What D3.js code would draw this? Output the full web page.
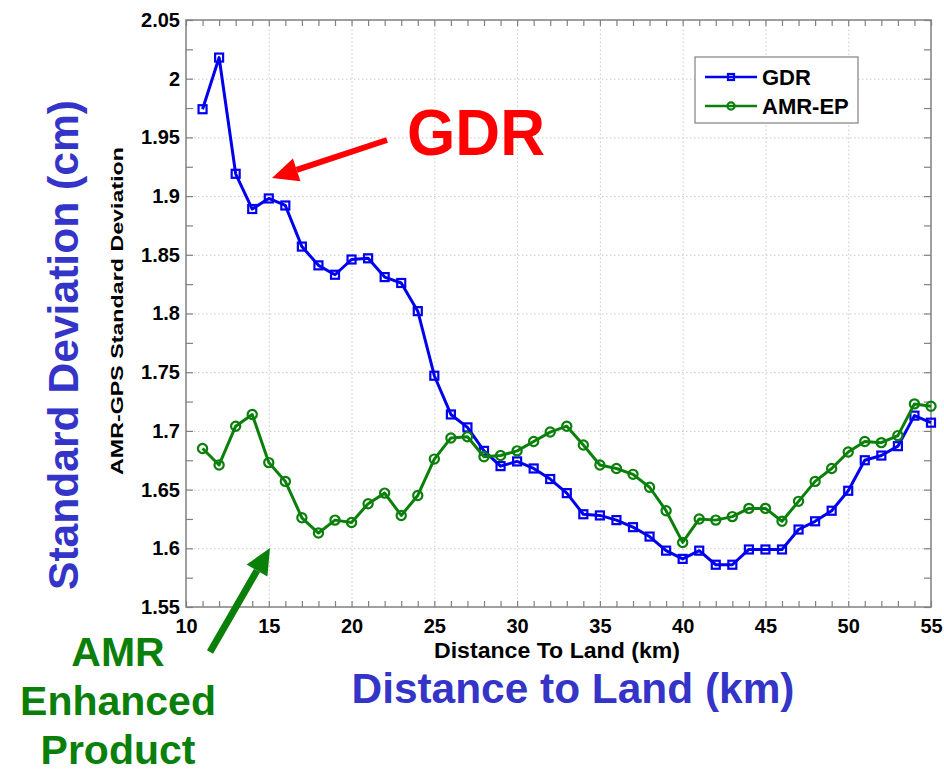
<!DOCTYPE html>
<html lang="en">
<head>
<meta charset="UTF-8">
<title>AMR-GPS Standard Deviation vs Distance To Land</title>
<script src="https://d3js.org/d3.v7.min.js"></script>
<style>
    body { margin: 0; background: #fff; }
    svg { display: block; font-family: "Liberation Sans", Arial, sans-serif; }
    .tick text { font-weight: bold; font-size: 20px; fill: #000; }
    .grid line { stroke: #c8c8c8; stroke-dasharray: 1.5,2.5; }
    .grid path { display: none; }
</style>
</head>
<body>
<svg id="chart" width="944" height="772"></svg>
<script>
    // distance to land (km)
    const distance = d3.range(11, 56);
    const gdr = [1.974, 2.018, 1.919, 1.889, 1.898, 1.892, 1.857, 1.841, 1.833, 1.846,
                 1.847, 1.831, 1.826, 1.802, 1.747, 1.714, 1.703, 1.683, 1.670, 1.674,
                 1.668, 1.659, 1.647, 1.629, 1.628, 1.624, 1.618, 1.610, 1.598, 1.591,
                 1.598, 1.586, 1.586, 1.599, 1.599, 1.599, 1.616, 1.623, 1.632, 1.649,
                 1.675, 1.679, 1.687, 1.713, 1.707];
    const amrEp = [1.685, 1.671, 1.704, 1.714, 1.673, 1.657, 1.626, 1.613, 1.624, 1.622,
                   1.638, 1.647, 1.628, 1.645, 1.676, 1.694, 1.695, 1.678, 1.679, 1.683,
                   1.691, 1.699, 1.704, 1.688, 1.671, 1.668, 1.663, 1.652, 1.632, 1.605,
                   1.625, 1.624, 1.627, 1.634, 1.634, 1.623, 1.640, 1.657, 1.668, 1.682,
                   1.691, 1.690, 1.696, 1.723, 1.721];
    const xTicks = [10, 15, 20, 25, 30, 35, 40, 45, 50, 55];
    const yTicks = [1.55, 1.6, 1.65, 1.7, 1.75, 1.8, 1.85, 1.9, 1.95, 2, 2.05];

    const svg = d3.select("#chart");
    const plot = {left: 186, right: 931, top: 20, bottom: 607};

    const x = d3.scaleLinear().domain([10, 55]).range([plot.left, plot.right]);
    const y = d3.scaleLinear().domain([1.55, 2.05]).range([plot.bottom, plot.top]);
    const w = plot.right - plot.left, h = plot.bottom - plot.top;

    // dotted grid
    svg.append("g").attr("class", "grid")
        .attr("transform", `translate(0,${plot.bottom})`)
        .call(d3.axisBottom(x).tickValues(xTicks.slice(1, -1)).tickSize(-h).tickFormat(""));
    svg.append("g").attr("class", "grid")
        .attr("transform", `translate(${plot.left},0)`)
        .call(d3.axisLeft(y).tickValues(yTicks.slice(1, -1)).tickSize(-w).tickFormat(""));

    // ticks (inward, all four sides)
    const fmtY = d3.format("");
    const axisStyle = g => {
        g.select(".domain").remove();
        g.selectAll(".tick line").attr("stroke", "#808080").attr("stroke-width", 1.2);
    };
    const minorX = d3.range(10, 56, 1);
    const minorY = d3.range(1.55, 2.0751, 0.025);

    svg.append("g").attr("transform", `translate(0,${plot.bottom})`)
        .call(d3.axisBottom(x).tickValues(minorX).tickSize(-6).tickFormat(""))
        .call(axisStyle);
    svg.append("g").attr("transform", `translate(0,${plot.bottom})`)
        .call(d3.axisBottom(x).tickValues(xTicks).tickSize(0).tickPadding(12).tickFormat(d3.format("d")))
        .call(axisStyle);
    svg.append("g").attr("transform", `translate(0,${plot.top})`)
        .call(d3.axisTop(x).tickValues(minorX).tickSize(-6).tickFormat(""))
        .call(axisStyle);
    svg.append("g").attr("transform", `translate(${plot.left},0)`)
        .call(d3.axisLeft(y).tickValues(minorY).tickSize(-7).tickFormat(""))
        .call(axisStyle);
    svg.append("g").attr("transform", `translate(${plot.left},0)`)
        .call(d3.axisLeft(y).tickValues(yTicks).tickSize(0).tickPadding(6).tickFormat(fmtY))
        .call(axisStyle);
    svg.append("g").attr("transform", `translate(${plot.right},0)`)
        .call(d3.axisRight(y).tickValues(minorY).tickSize(-7).tickFormat(""))
        .call(axisStyle);

    // frame
    svg.append("rect")
        .attr("x", plot.left).attr("y", plot.top).attr("width", w).attr("height", h)
        .attr("fill", "none").attr("stroke", "#808080").attr("stroke-width", 1.5);

    // series
    const series = [
        {name: "GDR", values: gdr, color: "#0000ee", marker: "square"},
        {name: "AMR-EP", values: amrEp, color: "#0a800a", marker: "circle"}
    ];
    const line = d3.line().x((d, i) => x(distance[i])).y(d => y(d));

    function drawMarker(g, type, color, size) {
        if (type === "square") {
            g.append("rect").attr("x", -size).attr("y", -size)
                .attr("width", size * 2).attr("height", size * 2)
                .attr("fill", "none").attr("stroke", color).attr("stroke-width", 2.2);
        } else {
            g.append("circle").attr("r", size + 0.6)
                .attr("fill", "none").attr("stroke", color).attr("stroke-width", 2.2);
        }
    }

    series.forEach(s => {
        svg.append("path").datum(s.values)
            .attr("d", line).attr("fill", "none")
            .attr("stroke", s.color).attr("stroke-width", 3).attr("stroke-linejoin", "round");
        svg.append("g").selectAll("g").data(s.values).join("g")
            .attr("transform", (d, i) => `translate(${x(distance[i])},${y(d)})`)
            .each(function () { drawMarker(d3.select(this), s.marker, s.color, 4); });
    });

    // legend
    const legend = svg.append("g").attr("transform", "translate(695,57)");
    legend.append("rect").attr("width", 163).attr("height", 66)
        .attr("fill", "#fff").attr("stroke", "#808080").attr("stroke-width", 1.2);
    series.forEach((s, i) => {
        const row = legend.append("g").attr("transform", `translate(0,${20 + i * 29})`);
        row.append("line").attr("x1", 10).attr("x2", 62)
            .attr("stroke", s.color).attr("stroke-width", 2.5);
        const m = row.append("g").attr("transform", "translate(36,0)");
        drawMarker(m, s.marker, s.color, 3);
        row.append("text").attr("x", 67).attr("y", 8)
            .attr("font-size", 22).attr("font-weight", "bold").text(s.name);
    });

    // axis titles
    svg.append("text")
        .attr("x", 557).attr("y", 658).attr("text-anchor", "middle")
        .attr("font-size", 22).attr("font-weight", "bold")
        .attr("textLength", 246).attr("lengthAdjust", "spacingAndGlyphs")
        .text("Distance To Land (km)");
    svg.append("text")
        .attr("transform", "translate(123,311) rotate(-90)")
        .attr("text-anchor", "middle")
        .attr("font-size", 17).attr("font-weight", "bold")
        .attr("textLength", 328).attr("lengthAdjust", "spacingAndGlyphs")
        .text("AMR-GPS Standard Deviation");

    // overlay annotations
    const blue = "#3434c8", red = "#ff0000", green = "#0a800a";
    svg.append("text")
        .attr("transform", "translate(78,345) rotate(-90)")
        .attr("text-anchor", "middle").attr("fill", blue)
        .attr("font-size", 42).attr("font-weight", "bold")
        .attr("textLength", 490).attr("lengthAdjust", "spacingAndGlyphs")
        .text("Standard Deviation (cm)");
    svg.append("text")
        .attr("x", 573).attr("y", 703).attr("text-anchor", "middle").attr("fill", blue)
        .attr("font-size", 42).attr("font-weight", "bold")
        .attr("textLength", 443).attr("lengthAdjust", "spacingAndGlyphs")
        .text("Distance to Land (km)");
    svg.append("text")
        .attr("x", 407).attr("y", 155).attr("fill", red)
        .attr("font-size", 65).attr("font-weight", "bold")
        .attr("textLength", 138).attr("lengthAdjust", "spacingAndGlyphs")
        .text("GDR");
    ["AMR", "Enhanced", "Product"].forEach((t, i) => {
        svg.append("text")
            .attr("x", 118).attr("y", 666 + i * 49).attr("text-anchor", "middle")
            .attr("fill", green).attr("font-size", 41).attr("font-weight", "bold")
            .text(t);
    });

    function arrow(from, to, color, width) {
        const ang = Math.atan2(to[1] - from[1], to[0] - from[0]);
        const len = 26, half = 12;
        const bx = to[0] - len * Math.cos(ang), by = to[1] - len * Math.sin(ang);
        svg.append("line")
            .attr("x1", from[0]).attr("y1", from[1]).attr("x2", bx).attr("y2", by)
            .attr("stroke", color).attr("stroke-width", width);
        const px = -Math.sin(ang) * half, py = Math.cos(ang) * half;
        svg.append("path")
            .attr("d", `M${to[0]},${to[1]}L${bx + px},${by + py}L${bx - px},${by - py}Z`)
            .attr("fill", color);
    }
    arrow([387, 140], [272, 178], red, 6);
    arrow([210, 652], [270, 548], green, 7);
</script>
</body>
</html>
